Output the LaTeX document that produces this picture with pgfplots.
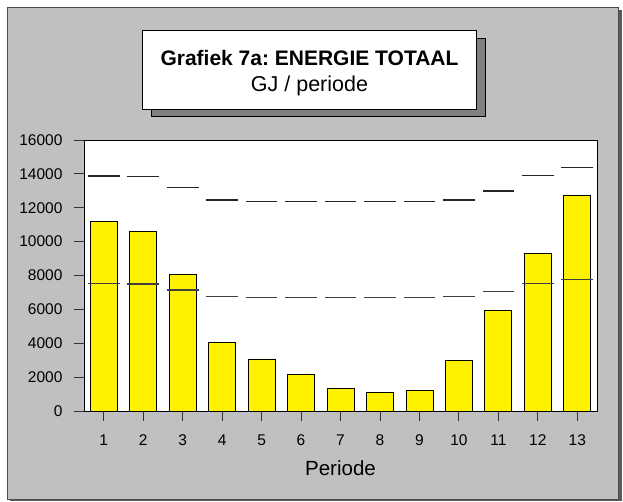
\documentclass[border=0pt]{standalone}
\usepackage{fontspec}
\setmainfont{Liberation Sans}
\usepackage{pgfplots}
\pgfplotsset{compat=1.18}
\definecolor{bggray}{HTML}{C0C0C0}
\definecolor{shadowgray}{HTML}{808080}
\frenchspacing
\begin{document}
\begin{tikzpicture}[x=1pt,y=1pt]
\path[use as bounding box] (0,0) rectangle (623,502);
% outer frame
\fill[shadowgray!70!black] (10,0.5) rectangle (621.5,491.5);
\filldraw[fill=bggray, draw=black!70, line width=0.8pt] (7,3) rectangle (618.5,494.7);
% title box
\filldraw[fill=shadowgray, draw=black, line width=0.6pt] (151.5,385.3) rectangle (485.5,463.9);
\filldraw[fill=white, draw=black, line width=0.8pt] (142.5,392.7) rectangle (476.5,471.3);
\node[anchor=base, inner sep=0pt, font=\fontsize{21}{24}\selectfont\bfseries] at (309.5,436) {Grafiek 7a: ENERGIE TOTAAL};
\node[anchor=base, inner sep=0pt, font=\fontsize{21.5}{24}\selectfont] at (309.5,410.3) {GJ / periode};
\begin{axis}[
  at={(84pt,91pt)}, anchor=south west,
  scale only axis, width=513pt, height=271pt,
  xmin=0.5, xmax=13.5, ymin=0, ymax=16000,
  axis background/.style={fill=white},
  axis line style={line width=0.9pt, black},
  xtick={1,...,13}, ytick={0,2000,...,16000},
  xtick pos=bottom, ytick pos=left,
  tick align=outside, major tick length=10pt,
  tick style={line width=0.8pt, black!80},
  scaled y ticks=false,
  /pgf/number format/.cd, 1000 sep={}, assume math mode=true, /pgfplots/.cd,
  tick label style={font=\fontsize{15.5}{18}\selectfont},
  xticklabel style={yshift=-10pt},
  yticklabel style={xshift=-8pt},
  xlabel={Periode},
  xlabel style={font=\fontsize{20.5}{24}\selectfont, yshift=-8pt},
]
\addplot[ybar, bar width=27pt, fill=yellow, draw=black, line width=0.8pt] coordinates {
(1,11200) (2,10600) (3,8070) (4,4030) (5,3070) (6,2180) (7,1340) (8,1100) (9,1220) (10,3010) (11,5940) (12,9290) (13,12730)};
\addplot[only marks, mark=-, mark size=15.85pt, mark options={line width=1.6pt, draw=black!85, line cap=butt}] coordinates {
(1,13890) (2,13850) (3,13200) (4,12460) (5,12380) (6,12380) (7,12380) (8,12380) (9,12380) (10,12460) (11,13000) (12,13910) (13,14380)};
\addplot[only marks, mark=-, mark size=15.85pt, mark options={line width=1.2pt, draw=black!75, line cap=butt}] coordinates {
(1,7520) (2,7500) (3,7140) (4,6750) (5,6720) (6,6700) (7,6700) (8,6700) (9,6700) (10,6750) (11,7040) (12,7520) (13,7770)};
\end{axis}
\end{tikzpicture}
\end{document}
